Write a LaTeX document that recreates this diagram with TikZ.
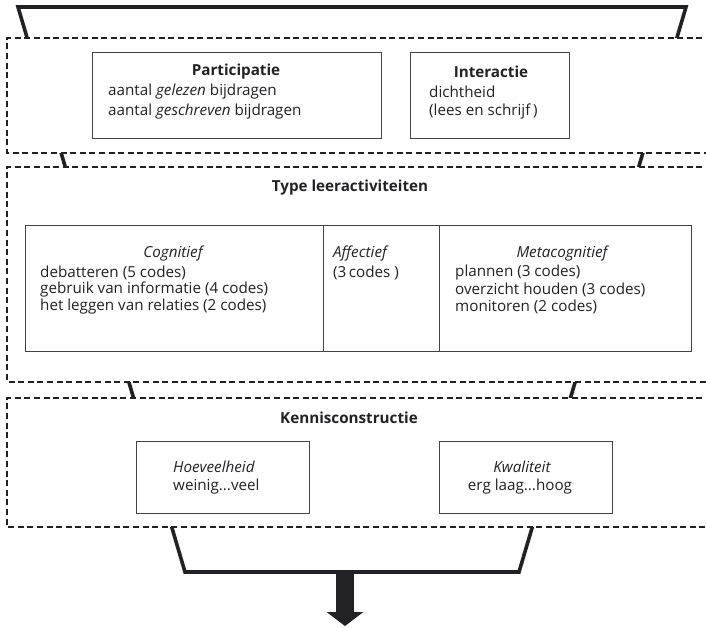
\documentclass[tikz,border=0pt]{standalone}
\usepackage{fontspec}
\setmainfont{Open Sans}
\usetikzlibrary{arrows.meta}
\definecolor{ink}{HTML}{222226}
\tikzset{
  funnel/.style={line width=3.6pt, draw=ink, line join=miter},
  dashbox/.style={draw=ink, fill=white, line width=1.2pt, dash pattern=on 6pt off 3.6pt},
  innerbox/.style={draw=ink!85, line width=1pt, fill=white},
  txt/.style={inner sep=0pt, text=ink, font=\fontsize{15.2}{20}\selectfont},
  ttl/.style={txt, font=\fontsize{15.2}{20}\selectfont\bfseries},
  itl/.style={txt, font=\fontsize{15.2}{20}\selectfont\itshape},
}
\begin{document}
\begin{tikzpicture}[x=1pt,y=-1pt]
\useasboundingbox (0,0) rectangle (706,627);
\clip (0,0) rectangle (706,627);
% funnel
\coordinate (ftl) at (18,7);
\coordinate (ftr) at (686,7);
\coordinate (fbr) at (519,572);
\coordinate (fbl) at (185,572);
\draw[funnel] (ftl) -- (ftr) -- (fbr) -- (fbl) -- cycle;
% output arrow
\coordinate (arrtop) at (345,571);
\coordinate (arrtip) at (345,626);
\draw[draw=ink, line width=18pt, -{Triangle[width=36pt,length=14pt]}] (arrtop) -- (arrtip);
% dashed layers
\draw[dashbox] (712,38) -- (7,38) -- (7,153) -- (712,153);
\draw[dashbox] (712,167) -- (7,167) -- (7,382) -- (712,382);
\draw[dashbox] (712,398) -- (7,398) -- (7,527) -- (712,527);
% layer 1
\node[innerbox, minimum width=289pt, minimum height=86pt, anchor=north west] (part) at (92,52) {};
\node[innerbox, minimum width=159pt, minimum height=86pt, anchor=north west] (inter) at (410,52) {};
\node[ttl] (partT) at (236,72) {Participatie};
\node[txt, anchor=west] (partA) at (108,92) {aantal \textit{gelezen} bijdragen};
\node[txt, anchor=west] (partB) at (108,112) {aantal \textit{geschreven} bijdragen};
\node[ttl] (interT) at (491,72) {Interactie};
\node[txt, anchor=west] (interA) at (429,92) {dichtheid};
\node[txt, anchor=west] (interB) at (429,112) {(lees en schrijf\,)};
% layer 2
\node[ttl] (typeT) at (350,188) {Type leeractiviteiten};
\node[innerbox, minimum width=666pt, minimum height=126pt, anchor=north west] (table) at (25,225) {};
\coordinate (d1t) at (323,225); \coordinate (d1b) at (323,351);
\coordinate (d2t) at (439,225); \coordinate (d2b) at (439,351);
\draw[draw=ink!85, line width=1pt] (d1t) -- (d1b) (d2t) -- (d2b);
\node[itl] (cogT) at (173,254) {Cognitief};
\node[txt, anchor=west] (cogA) at (40,273) {debatteren (5 codes)};
\node[txt, anchor=west] (cogB) at (40,290) {gebruik van informatie (4 codes)};
\node[txt, anchor=west] (cogC) at (40,307) {het leggen van relaties (2 codes)};
\node[itl, anchor=west] (affT) at (333,254) {Affectief};
\node[txt, anchor=west] (affA) at (333,273) {(3\,codes\ )};
\node[itl] (metT) at (562,254) {Metacognitief};
\node[txt, anchor=west] (metA) at (455,273) {plannen (3 codes)};
\node[txt, anchor=west] (metB) at (455,290) {overzicht houden (3 codes)};
\node[txt, anchor=west] (metC) at (455,307) {monitoren (2 codes)};
% layer 3
\node[ttl] (kenT) at (349,418) {Kennisconstructie};
\node[innerbox, minimum width=173pt, minimum height=72pt, anchor=north west] (hoev) at (136,441) {};
\node[innerbox, minimum width=173pt, minimum height=72pt, anchor=north west] (kwal) at (439,441) {};
\node[itl, anchor=west] (hoevT) at (173,467) {Hoeveelheid};
\node[txt, anchor=west] (hoevA) at (173,487) {weinig...veel};
\node[itl] (kwalT) at (522,467) {Kwaliteit};
\node[txt] (kwalA) at (520,487) {erg laag...hoog};
\end{tikzpicture}
\end{document}
